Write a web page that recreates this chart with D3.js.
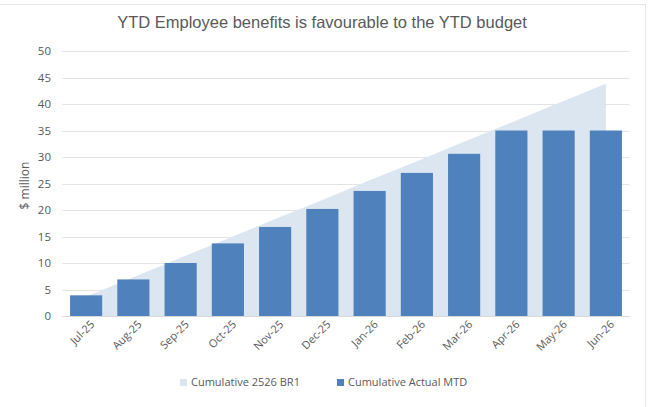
<html>
<head>
<script src="https://d3js.org/d3.v7.min.js"></script>
<style>
  body { margin: 0; background: #fff; }
  text { font-family: "Open Sans", "Liberation Sans", sans-serif; }
</style>
</head>
<body>
<div id="chart"></div>
<script>
  months = ["Jul-25", "Aug-25", "Sep-25", "Oct-25", "Nov-25", "Dec-25",
            "Jan-26", "Feb-26", "Mar-26", "Apr-26", "May-26", "Jun-26"];
  budget = [3.7, 7.3, 11.0, 14.6, 18.3, 21.9, 25.6, 29.2, 32.9, 36.5, 40.2, 43.8];
  actual = [3.9, 6.9, 10.0, 13.7, 16.8, 20.2, 23.6, 27.0, 30.6, 35.0, 35.0, 35.0];
  yTicks = [0, 5, 10, 15, 20, 25, 30, 35, 40, 45, 50];

  width = 654;
  height = 407;
  plot = { left: 62.5, right: 629.5, top: 51, bottom: 316 };

  svg = d3.select("#chart").append("svg")
      .attr("width", width)
      .attr("height", height);

  // light frame (top + right edges visible in the reference)
  svg.append("line").attr("x1", 0).attr("x2", 645.5).attr("y1", 4.5).attr("y2", 4.5)
      .attr("stroke", "#e6e6e6");
  svg.append("line").attr("x1", 645.5).attr("x2", 645.5).attr("y1", 4.5).attr("y2", height)
      .attr("stroke", "#e6e6e6");

  svg.append("text")
      .attr("x", 322).attr("y", 28)
      .attr("text-anchor", "middle")
      .style("font-family", "'Liberation Sans', Arial, sans-serif")
      .style("font-size", "16.5px")
      .attr("fill", "#595959")
      .text("YTD Employee benefits is favourable to the YTD budget");

  x = d3.scaleBand().domain(months).range([plot.left, plot.right]).padding(0);
  y = d3.scaleLinear().domain([0, 50]).range([plot.bottom, plot.top]);

  // gridlines
  svg.append("g").selectAll("line")
    .data(yTicks.filter(d => d > 0))
    .join("line")
      .attr("x1", plot.left).attr("x2", plot.right)
      .attr("y1", d => Math.round(y(d)) + 0.5).attr("y2", d => Math.round(y(d)) + 0.5)
      .attr("stroke", "#e3e3e3");

  // y tick labels
  svg.append("g").selectAll("text")
    .data(yTicks)
    .join("text")
      .attr("x", 51).attr("y", d => y(d) + 4)
      .attr("text-anchor", "end")
      .style("font-size", "11.5px")
      .attr("fill", "#595959")
      .text(d => d);

  svg.append("text")
      .attr("transform", `translate(29,${(plot.top + plot.bottom) / 2 + 2}) rotate(-90)`)
      .attr("text-anchor", "middle")
      .style("font-size", "12px")
      .attr("fill", "#595959")
      .text("$ million");

  cx = d => x(d) + x.bandwidth() / 2;

  // budget area
  svg.append("path")
      .datum(budget)
      .attr("fill", "#dce6f1")
      .attr("d", d3.area()
        .x((d, i) => cx(months[i]))
        .y0(y(0))
        .y1(d => y(d)));

  // actual bars
  barW = x.bandwidth() * 0.68;
  svg.append("g").selectAll("rect")
    .data(actual)
    .join("rect")
      .attr("x", (d, i) => cx(months[i]) - barW / 2)
      .attr("width", barW)
      .attr("y", d => y(d))
      .attr("height", d => y(0) - y(d))
      .attr("fill", "#4f81bd");

  // baseline
  svg.append("line")
      .attr("x1", plot.left).attr("x2", plot.right)
      .attr("y1", Math.round(y(0)) + 0.5).attr("y2", Math.round(y(0)) + 0.5)
      .attr("stroke", "#d9d9d9");

  // x labels
  svg.append("g").selectAll("text")
    .data(months)
    .join("text")
      .attr("transform", d => `translate(${cx(d) + 9},${plot.bottom + 9}) rotate(-45)`)
      .attr("text-anchor", "end")
      .style("font-size", "11px")
      .attr("fill", "#595959")
      .text(d => d);

  // legend
  legend = [
    { label: "Cumulative 2526 BR1", color: "#dce6f1", x: 180 },
    { label: "Cumulative Actual MTD", color: "#4f81bd", x: 337 }
  ];
  lg = svg.append("g").selectAll("g")
    .data(legend)
    .join("g")
      .attr("transform", d => `translate(${d.x},386)`);
  lg.append("rect").attr("x", 0).attr("y", -7).attr("width", 7).attr("height", 7)
      .attr("fill", d => d.color);
  lg.append("text").attr("x", 11).attr("y", 0)
      .style("font-size", "11px")
      .attr("fill", "#595959")
      .text(d => d.label);
</script>
</body>
</html>
